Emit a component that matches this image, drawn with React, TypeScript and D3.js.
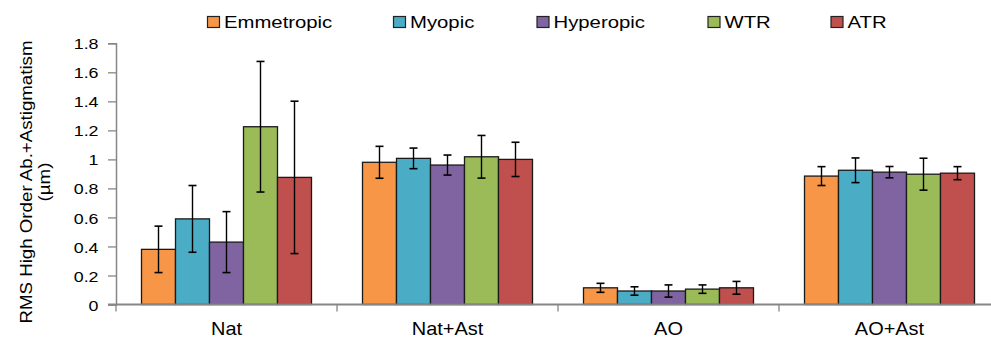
import React, { useEffect, useRef } from "react";
import * as d3 from "d3";

const categories = ["Nat", "Nat+Ast", "AO", "AO+Ast"];
const seriesNames = ["Emmetropic", "Myopic", "Hyperopic", "WTR", "ATR"];
const seriesColors = ["#F79646", "#4BACC6", "#8064A2", "#9BBB59", "#C0504D"];

// mean values per series, in category order
const emmetropic = [0.38, 0.98, 0.115, 0.885];
const myopic = [0.59, 1.007, 0.093, 0.925];
const hyperopic = [0.43, 0.961, 0.093, 0.912];
const wtr = [1.225, 1.018, 0.106, 0.898];
const atr = [0.876, 1.0, 0.115, 0.905];

// error bar half widths
const emmetropicErr = [0.16, 0.11, 0.031, 0.065];
const myopicErr = [0.23, 0.071, 0.029, 0.085];
const hyperopicErr = [0.21, 0.069, 0.042, 0.039];
const wtrErr = [0.45, 0.147, 0.029, 0.11];
const atrErr = [0.525, 0.118, 0.044, 0.045];

const yTicks = [0, 0.2, 0.4, 0.6, 0.8, 1, 1.2, 1.4, 1.6, 1.8];
const yTitle = ["RMS High Order Ab.+Astigmatism", "(µm)"];

const seriesValues = [emmetropic, myopic, hyperopic, wtr, atr];
const seriesErrors = [emmetropicErr, myopicErr, hyperopicErr, wtrErr, atrErr];

const W = 991;
const H = 339;

export default function App() {
  const ref = useRef<SVGSVGElement>(null);

  useEffect(() => {
    const svg = d3.select(ref.current);
    svg.selectAll("*").remove();

    const left = 116;
    const zeroY = 304.5;
    const topY = 43.3;
    const groupW = 221;

    const x0 = d3.scaleBand().domain(categories).range([left, left + groupW * 4]);
    const x1 = d3
      .scaleBand()
      .domain(seriesNames)
      .range([25.5, x0.bandwidth() - 25.5]);
    const y = d3.scaleLinear().domain([0, 1.8]).range([zeroY, topY]);

    const font = "'Liberation Sans', Arial, sans-serif";
    const axisColor = "#868686";

    // y axis
    const yAxis = svg
      .append("g")
      .attr("transform", `translate(${left},0)`)
      .call(
        d3
          .axisLeft(y)
          .tickValues(yTicks)
          .tickSize(8)
          .tickPadding(10)
          .tickFormat((d) => String(+(+d).toFixed(1)))
      );
    yAxis.select(".domain").attr("stroke", axisColor).attr("stroke-width", 1.5);
    yAxis.selectAll(".tick line").attr("stroke", axisColor).attr("stroke-width", 1.3);
    yAxis
      .selectAll(".tick text")
      .attr("x", 0)
      .attr("transform", "translate(-17.5,0) scale(1.15,1)")
      .attr("dy", "0.36em")
      .attr("fill", "#000")
      .style("font-family", font)
      .style("font-size", "15.5px");

    // bars
    const data = categories.flatMap((c, ci) =>
      seriesNames.map((s, si) => ({
        cat: c,
        ser: s,
        value: seriesValues[si][ci],
        err: seriesErrors[si][ci],
        color: seriesColors[si],
      }))
    );

    const g = svg.append("g");
    g.selectAll("rect.bar")
      .data(data)
      .join("rect")
      .attr("class", "bar")
      .attr("x", (d) => (x0(d.cat) as number) + (x1(d.ser) as number))
      .attr("y", (d) => y(d.value))
      .attr("width", x1.bandwidth())
      .attr("height", (d) => zeroY - y(d.value))
      .attr("fill", (d) => d.color)
      .attr("stroke", "#1a1a1a")
      .attr("stroke-width", 1.3);

    // error bars
    const eb = g
      .selectAll("g.err")
      .data(data)
      .join("g")
      .attr("class", "err")
      .attr(
        "transform",
        (d) =>
          `translate(${(x0(d.cat) as number) + (x1(d.ser) as number) + x1.bandwidth() / 2},0)`
      );
    eb.append("line")
      .attr("y1", (d) => y(d.value + d.err))
      .attr("y2", (d) => y(d.value - d.err))
      .attr("stroke", "#000")
      .attr("stroke-width", 1.4);
    eb.append("line")
      .attr("x1", -4)
      .attr("x2", 4)
      .attr("y1", (d) => y(d.value + d.err))
      .attr("y2", (d) => y(d.value + d.err))
      .attr("stroke", "#000")
      .attr("stroke-width", 1.6);
    eb.append("line")
      .attr("x1", -4)
      .attr("x2", 4)
      .attr("y1", (d) => y(d.value - d.err))
      .attr("y2", (d) => y(d.value - d.err))
      .attr("stroke", "#000")
      .attr("stroke-width", 1.6);

    // x axis
    const xAxis = svg.append("g").attr("transform", `translate(0,${zeroY})`);
    xAxis
      .append("line")
      .attr("x1", left - 8)
      .attr("x2", left + groupW * 4)
      .attr("stroke", axisColor)
      .attr("stroke-width", 2);
    xAxis
      .selectAll("line.tick")
      .data(categories)
      .join("line")
      .attr("class", "tick")
      .attr("x1", (d) => x0(d) as number)
      .attr("x2", (d) => x0(d) as number)
      .attr("y1", 0)
      .attr("y2", 7)
      .attr("stroke", axisColor)
      .attr("stroke-width", 1.3);
    xAxis
      .selectAll("text")
      .data(categories)
      .join("text")
      .attr(
        "transform",
        (d) => `translate(${(x0(d) as number) + x0.bandwidth() / 2},30) scale(1.05,1)`
      )
      .attr("text-anchor", "middle")
      .style("font-family", font)
      .style("font-size", "19px")
      .text((d) => d);

    // y title
    const titleX = [31.5, 49.5];
    svg
      .selectAll("text.ytitle")
      .data(yTitle)
      .join("text")
      .attr("class", "ytitle")
      .attr("transform", (d, i) => `translate(${titleX[i]},182) rotate(-90) scale(1.1,1)`)
      .attr("text-anchor", "middle")
      .style("font-family", font)
      .style("font-size", "17px")
      .text((d) => d);

    // legend
    const legendX = [207.5, 393.5, 537, 708, 831];
    const lg = svg
      .append("g")
      .selectAll("g")
      .data(seriesNames)
      .join("g")
      .attr("transform", (d, i) => `translate(${legendX[i]},16.5)`);
    lg.append("rect")
      .attr("width", 12)
      .attr("height", 11)
      .attr("fill", (d, i) => seriesColors[i])
      .attr("stroke", "#222")
      .attr("stroke-width", 1.2);
    lg.append("text")
      .attr("transform", "translate(16.5,11) scale(1.27,1)")
      .style("font-family", font)
      .style("font-size", "16px")
      .text((d) => d);
  }, []);

  return (
    <svg
      ref={ref}
      width={W}
      height={H}
      style={{ position: "absolute", left: 0, top: 0, background: "#fff" }}
    />
  );
}
